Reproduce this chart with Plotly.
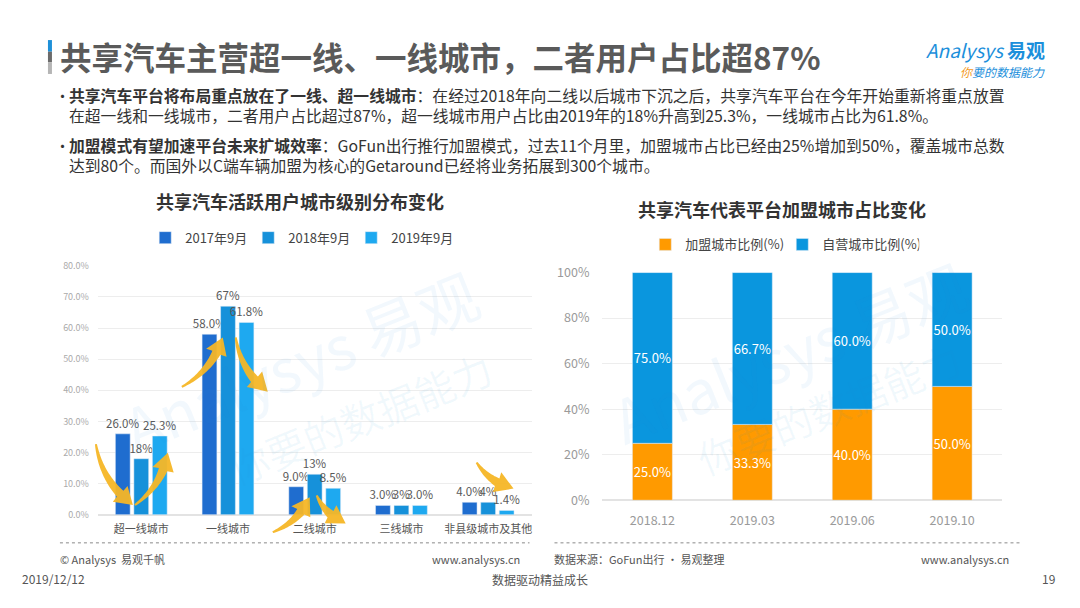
import math
import plotly.graph_objects as go

W, H = 1080, 608

# ---------------- data ----------------
left_categories = ["超一线城市", "一线城市", "二线城市", "三线城市", "非县级城市及其他"]
left_series_names = ["2017年9月", "2018年9月", "2019年9月"]
left_2017 = [26.0, 58.0, 9.0, 3.0, 4.0]
left_2018 = [18.0, 67.0, 13.0, 3.0, 4.0]
left_2019 = [25.3, 61.8, 8.5, 3.0, 1.4]
left_ticks = [0, 10, 20, 30, 40, 50, 60, 70, 80]

right_categories = ["2018.12", "2019.03", "2019.06", "2019.10"]
right_series_names = ["加盟城市比例(%)", "自营城市比例(%)"]
right_franchise = [25.0, 33.3, 40.0, 50.0]
right_self = [75.0, 66.7, 60.0, 50.0]
right_ticks = [0, 20, 40, 60, 80, 100]

FONT = "Noto Sans CJK SC, Noto Sans, sans-serif"


def px(x):
    return x / W


def py(y):
    return 1 - y / H


fig = go.Figure()

left_colors = ["#1F6DCF", "#1691DA", "#1EA9F0"]
left_templates = ["%{y:.1f}%", "%{y:.0f}%", "%{y:.1f}%"]
for name, vals, col, tpl in zip(left_series_names, [left_2017, left_2018, left_2019],
                                left_colors, left_templates):
    fig.add_trace(go.Bar(
        x=left_categories, y=vals, name=name, marker_color=col,
        texttemplate=tpl, textposition="outside", constraintext="none", textangle=0,
        cliponaxis=False, textfont=dict(size=11.5, color="#595959"),
        xaxis="x", yaxis="y", legend="legend",
    ))

fig.add_trace(go.Bar(
    x=right_categories, y=right_franchise, name=right_series_names[0],
    marker_color="#FF9A00", width=0.4, offsetgroup="r",
    texttemplate="%{y:.1f}%", textposition="inside", insidetextanchor="middle",
    constraintext="none", textangle=0, textfont=dict(size=13, color="white"),
    xaxis="x2", yaxis="y2", legend="legend2",
))
fig.add_trace(go.Bar(
    x=right_categories, y=right_self, base=right_franchise, name=right_series_names[1],
    marker_color="#0A96DE", width=0.4, offsetgroup="r",
    texttemplate="%{y:.1f}%", textposition="inside", insidetextanchor="middle",
    constraintext="none", textangle=0, textfont=dict(size=13, color="white"),
    xaxis="x2", yaxis="y2", legend="legend2",
))

# ---------------- arrows (decorative) ----------------
def arrow_shape(p0, p1, bend=0.2, w0=2.0, w1=9.0, head_w=22.0, head_l=17.0):
    (x0, y0), (x1, y1) = p0, p1
    dx, dy = x1 - x0, y1 - y0
    L = math.hypot(dx, dy)
    nx, ny = -dy / L, dx / L
    cx, cy = (x0 + x1) / 2 + nx * bend * L, (y0 + y1) / 2 + ny * bend * L
    N = 40
    pts = []
    for i in range(N + 1):
        t = i / N
        bx = (1 - t) ** 2 * x0 + 2 * (1 - t) * t * cx + t ** 2 * x1
        by = (1 - t) ** 2 * y0 + 2 * (1 - t) * t * cy + t ** 2 * y1
        pts.append((bx, by))
    acc = [0.0]
    for i in range(1, len(pts)):
        acc.append(acc[-1] + math.hypot(pts[i][0] - pts[i - 1][0], pts[i][1] - pts[i - 1][1]))
    total = acc[-1]
    k = max(i for i in range(len(pts)) if acc[i] <= total - head_l)
    shaft = pts[:k + 1]
    left, right = [], []
    for i, (sx, sy) in enumerate(shaft):
        j0, j1 = max(i - 1, 0), min(i + 1, len(pts) - 1)
        tx, ty = pts[j1][0] - pts[j0][0], pts[j1][1] - pts[j0][1]
        tl = math.hypot(tx, ty)
        mx, my = -ty / tl, tx / tl
        w = w0 + (w1 - w0) * (i / max(len(shaft) - 1, 1))
        left.append((sx + mx * w / 2, sy + my * w / 2))
        right.append((sx - mx * w / 2, sy - my * w / 2))
    bx, by = shaft[-1]
    tx, ty = x1 - bx, y1 - by
    tl = math.hypot(tx, ty)
    mx, my = -ty / tl, tx / tl
    hl = (bx + mx * head_w / 2, by + my * head_w / 2)
    hr = (bx - mx * head_w / 2, by - my * head_w / 2)
    poly = left + [hl, (x1, y1), hr] + right[::-1]
    path = "M " + " L ".join(f"{px(a):.5f},{py(b):.5f}" for a, b in poly) + " Z"
    return dict(type="path", path=path, xref="paper", yref="paper",
                fillcolor="rgba(246,182,38,0.95)", line=dict(width=0), layer="above")


arrow_specs = [
    ((96, 447), (133, 510)),
    ((135, 510), (168, 456)),
    ((182, 388), (223, 337)),
    ((236, 337), (268, 393)),
    ((273, 538), (310, 502)),
    ((317, 500), (346, 529)),
    ((477, 466), (514, 493)),
]
shapes = [arrow_shape(a, b) for a, b in arrow_specs]

# title bar
shapes += [
    dict(type="rect", xref="paper", yref="paper", x0=px(48), x1=px(52), y0=py(30), y1=py(42),
         fillcolor="#1E90D8", line=dict(width=0)),
    dict(type="rect", xref="paper", yref="paper", x0=px(48), x1=px(52), y0=py(42), y1=py(53),
         fillcolor="#6b6b6b", line=dict(width=0)),
    dict(type="rect", xref="paper", yref="paper", x0=px(48), x1=px(52), y0=py(53), y1=py(65),
         fillcolor="#b5b5b5", line=dict(width=0)),
]
# footer dotted lines
shapes += [
    dict(type="line", xref="paper", yref="paper", x0=px(60), x1=px(530), y0=py(549), y1=py(549),
         line=dict(color="#8a8a8a", width=1, dash="dot")),
    dict(type="line", xref="paper", yref="paper", x0=px(555), x1=px(1022), y0=py(549), y1=py(549),
         line=dict(color="#8a8a8a", width=1, dash="dot")),
]

ann = []


def text(x, y, s, size=12, color="#444", xanchor="left", yanchor="middle", angle=0, family=FONT):
    ann.append(dict(x=px(x), y=py(y), xref="paper", yref="paper", text=s, showarrow=False,
                    xanchor=xanchor, yanchor=yanchor, textangle=angle,
                    font=dict(size=size, color=color, family=family)))


# watermarks
wm = "rgba(30,144,220,0.06)"
text(300, 360, "Analysys 易观", size=60, color=wm, xanchor="center", angle=-22)
text(360, 420, "你要的数据能力", size=40, color=wm, xanchor="center", angle=-22)
text(790, 350, "Analysys 易观", size=60, color=wm, xanchor="center", angle=-22)
text(830, 410, "你要的数据能力", size=40, color=wm, xanchor="center", angle=-22)

# title
text(58, 46, "<b>共享汽车主营超一线、一线城市，二者用户占比超87%</b>", size=31.5, color="#5a5a5a")

# logo
text(1048, 40, "<i>Analysys</i> <b>易观</b>", size=19, color="#1C8FDB", xanchor="right")
text(1048, 62, "<span style='color:#F39A1E'><i>你</i></span><i>要的数据能力</i>", size=12,
     color="#1C8FDB", xanchor="right")

# bullets
BC = "#333333"
BS = 15.8
text(53, 87, "•", size=15, color=BC)
text(67, 87, "<b>共享汽车平台将布局重点放在了一线、超一线城市</b>：在经过2018年向二线以后城市下沉之后，共享汽车平台在今年开始重新将重点放置",
     size=BS, color=BC)
text(67, 108, "在超一线和一线城市，二者用户占比超过87%，超一线城市用户占比由2019年的18%升高到25.3%，一线城市占比为61.8%。",
     size=BS, color=BC)
text(53, 139, "•", size=15, color=BC)
text(67, 139, "<b>加盟模式有望加速平台未来扩城效率</b>：GoFun出行推行加盟模式，过去11个月里，加盟城市占比已经由25%增加到50%，覆盖城市总数",
     size=BS, color=BC)
text(67, 160, "达到80个。而国外以C端车辆加盟为核心的Getaround已经将业务拓展到300个城市。",
     size=BS, color=BC)

# chart titles
text(300, 196, "<b>共享汽车活跃用户城市级别分布变化</b>", size=18, color="#333", xanchor="center")
text(783, 204, "<b>共享汽车代表平台加盟城市占比变化</b>", size=18, color="#333", xanchor="center")

# footer
FC = "#555555"
text(58, 566, "© Analysys  易观千帆", size=11, color=FC)
text(522, 566, "www.analysys.cn", size=11, color=FC, xanchor="right")
text(553, 566, "数据来源：GoFun出行 · 易观整理", size=11, color=FC)
text(1012, 566, "www.analysys.cn", size=11, color=FC, xanchor="right")
text(20, 586, "2019/12/12", size=12, color=FC)
text(540, 587, "数据驱动精益成长", size=12, color=FC, xanchor="center")
text(1058, 586, "19", size=12, color=FC, xanchor="right")

fig.update_layout(
    width=W, height=H,
    margin=dict(l=0, r=0, t=0, b=0),
    paper_bgcolor="white", plot_bgcolor="white",
    font=dict(family=FONT, color="#444"),
    barmode="group", bargap=0.36, bargroupgap=0.2,
    showlegend=True,
    xaxis=dict(domain=[px(98), px(532)], anchor="y", showline=False, ticks="",
               tickfont=dict(size=11, color="#555"), fixedrange=True, ticklabelstandoff=6),
    yaxis=dict(domain=[py(520), py(263)], anchor="x", range=[0, 80], tickvals=left_ticks,
               ticktext=[f"{v:.1f}%" for v in left_ticks],
               showgrid=True, gridcolor="#ededed",
               zeroline=True, zerolinecolor="#e3e3e3", tickfont=dict(size=9, color="#aaaaaa"),
               ticklabelstandoff=8),
    xaxis2=dict(domain=[px(603), px(1003)], anchor="y2", showline=False, ticks="",
                tickfont=dict(size=12.5, color="#9a9a9a"), fixedrange=True, ticklabelstandoff=11),
    yaxis2=dict(domain=[py(505), py(270)], anchor="x2", range=[0, 100], tickvals=right_ticks,
                ticktext=[f"{v}%" for v in right_ticks],
                showgrid=True, gridcolor="#ededed", zeroline=True,
                zerolinecolor="#e3e3e3", tickfont=dict(size=12.5, color="#9a9a9a"),
                ticklabelstandoff=12),
    legend=dict(orientation="h", x=px(300), y=py(234), xanchor="center", yanchor="middle",
                entrywidth=58, itemwidth=30,
                font=dict(size=13, color="#444"), bgcolor="rgba(0,0,0,0)"),
    legend2=dict(orientation="h", x=px(783), y=py(241), xanchor="center", yanchor="middle",
                 entrywidth=92, itemwidth=30,
                 font=dict(size=13, color="#444"), bgcolor="rgba(0,0,0,0)"),
    shapes=shapes,
    annotations=ann,
)

post = (
    "document.documentElement.style.cssText='margin:0;padding:0;overflow:hidden;';"
    "document.body.style.cssText='margin:0;padding:0;overflow:hidden;';"
    "var gd=document.querySelector('.plotly-graph-div');"
    "if(gd){gd.style.position='fixed';gd.style.top='0px';gd.style.left='0px';}"
)
fig.write_html("out.html", config={"displayModeBar": False}, post_script=post)
